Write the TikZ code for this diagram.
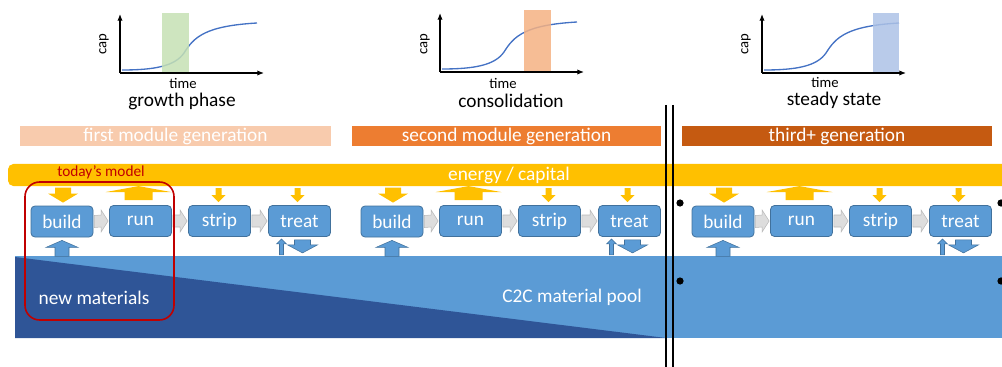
\documentclass[tikz,border=0pt]{standalone}
\usepackage{fontspec}
\setmainfont{Carlito}
\usetikzlibrary{calc,arrows.meta}

\definecolor{peach}{HTML}{F8CBAD}
\definecolor{midorange}{HTML}{ED7D31}
\definecolor{rust}{HTML}{C55A11}
\definecolor{gold}{HTML}{FFC000}
\definecolor{boxblue}{HTML}{5B9BD5}
\definecolor{boxedge}{HTML}{41719C}
\definecolor{deepblue}{HTML}{2F5597}
\definecolor{modelred}{HTML}{C00000}
\definecolor{chevgray}{HTML}{DDDDDD}
\definecolor{chevedge}{HTML}{B8B8B8}
\definecolor{curveblue}{HTML}{4472C4}
\definecolor{phasegreen}{HTML}{C5E0B4}
\definecolor{phasesalmon}{HTML}{F4B183}
\definecolor{phaseblue}{HTML}{ADC2E6}

% block arrow: tip, direction (1 = pointing up, -1 = pointing down),
% head half width, head length, shaft half width, total length, style
\newcommand\blockarrow[7]{%
  \fill[#7] #1 -- ++(-#3,{(#2)*(#4)}) -- ++({#3-#5},0)
    -- ++(0,{(#2)*(#6-#4)}) -- ++({2*#5},0)
    -- ++(0,{(#2)*(#4-#6)}) -- ++({#3-#5},0) -- cycle;}

% grey flow arrow from one step box to the next
\newcommand\stepflow[2]{%
  \filldraw[fill=chevgray, draw=chevedge, line width=0.4pt]
    ($(#1.east)+(1,-6)$) -- ($(#2.west)+(-8,-6)$) -- ($(#2.west)+(-8,-11)$)
    -- ($(#2.west)+(-1,0)$) -- ($(#2.west)+(-8,11)$) -- ($(#2.west)+(-8,6)$)
    -- ($(#1.east)+(1,6)$) -- cycle;}

% small S-curve chart: origin, phase band left, right, top, band colour
\newcommand\phasechart[5]{%
  \begin{scope}[shift={#1}]
    \draw[curveblue, line width=1pt]
      (2,-3) .. controls (35,-3) and (55,-7) .. (64,-20)
             .. controls (74,-36) and (85,-47) .. (137,-50);
    \fill[#5, opacity=0.85] (#2,0) rectangle (#3,#4);
    \draw[line width=0.9pt, -{Latex[length=5pt,width=4pt]}] (0,0) -- (0,-59);
    \draw[line width=0.9pt, -{Latex[length=5pt,width=4pt]}] (0,0) -- (144,0);
  \end{scope}}

\tikzset{
  stepbox/.style={draw=boxedge, fill=boxblue, rounded corners=3pt,
    line width=0.6pt, minimum width=46.5pt, minimum height=23.25pt,
    inner sep=0pt, text=white, font=\fontsize{14.5}{16}\selectfont},
  headbar/.style={minimum height=15pt, inner sep=0pt, text=white,
    font=\fontsize{14.5}{16}\selectfont},
  chartlabel/.style={font=\fontsize{11}{12}\selectfont, inner sep=0pt},
  charttitle/.style={font=\fontsize{14.5}{16}\selectfont, inner sep=0pt},
  poollabel/.style={text=white, font=\fontsize{14.5}{16}\selectfont, inner sep=0pt},
  gofill/.style={fill=gold},
  backfill/.style={fill=boxblue, draw=boxedge, line width=0.4pt},
  dot/.style={fill=black},
}

\begin{document}
\begin{tikzpicture}[x=0.75pt, y=-0.75pt]
\useasboundingbox (0,0) rectangle (1002,367);

% ---- phase charts ----
\phasechart{(120,73)}{42}{69}{-60}{phasegreen}
\node[chartlabel, rotate=90] (cap1) at (104,44) {cap};
\node[chartlabel] (time1) at (183,83) {time};
\node[charttitle] (title1) at (182,101) {growth phase};

\phasechart{(440,72)}{84}{111}{-62}{phasesalmon}
\node[chartlabel, rotate=90] (cap2) at (425,44) {cap};
\node[chartlabel] (time2) at (503,83) {time};
\node[charttitle] (title2) at (511,101) {consolidation};

\phasechart{(762,73)}{111}{137}{-60}{phaseblue}
\node[chartlabel, rotate=90] (cap3) at (746,44) {cap};
\node[chartlabel] (time3) at (825,82) {time};
\node[charttitle] (title3) at (834,100) {steady state};

% ---- generation headers ----
\node[headbar, fill=peach, minimum width=233.25pt] (gen1) at (175.5,136) {first module generation};
\node[headbar, fill=midorange, minimum width=231.75pt] (gen2) at (506.5,136) {second module generation};
\node[headbar, fill=rust, minimum width=232.5pt] (gen3) at (837,136) {third+ generation};

\begin{scope}
\clip (0,0) rectangle (1002,367);
% energy / capital band
\fill[gold, rounded corners=4pt] (8,164) rectangle (1015,186);
\node[text=white, font=\fontsize{14.5}{16}\selectfont, inner sep=0pt] (energy) at (509,175) {energy / capital};

% material pool
\fill[boxblue] (15,256) rectangle (1010,338);
\fill[deepblue] (15,257) -- (666,338) -- (15,338) -- cycle;
\node[poollabel] (newmat) at (94,298) {new materials};
\node[poollabel] (c2c) at (572,297) {C2C material pool};

% ---- process chains ----
\foreach \g/\dx in {1/0, 2/330, 3/661} {
  \node[stepbox] (b\g) at (62+\dx,221.5) {build};
  \node[stepbox] (r\g) at (140.5+\dx,221) {run};
  \node[stepbox] (s\g) at (219.5+\dx,221) {strip};
  \node[stepbox] (t\g) at (299.5+\dx,221) {treat};
  \stepflow{b\g}{r\g}
  \stepflow{r\g}{s\g}
  \stepflow{s\g}{t\g}
  % energy in / out
  \blockarrow{($(b\g.north)+(1,-3)$)}{-1}{15}{9}{8}{15}{gofill}
  \blockarrow{($(r\g.north)+(-2,-19)$)}{1}{33}{6}{14}{14}{gofill}
  \blockarrow{($(s\g.north)+(-1,-3)$)}{-1}{7}{7}{3}{14}{gofill}
  \blockarrow{($(t\g.north)+(-2,-3)$)}{-1}{7}{7}{3}{14}{gofill}
  % material in / out
  \blockarrow{($(b\g.south)+(0,3)$)}{1}{16}{7}{7}{16}{backfill}
  \blockarrow{($(t\g.south)+(-18,2)$)}{1}{5}{5}{2}{16}{backfill}
  \blockarrow{($(t\g.south)+(3,16)$)}{-1}{15}{8}{8}{13}{backfill}
}

% continuation dots
\fill[dot] (680,203) circle[radius=2.7pt];
\fill[dot] (680,281) circle[radius=2.7pt];
\fill[dot] (1001,203) circle[radius=2.7pt];
\fill[dot] (1001,281) circle[radius=2.7pt];
\end{scope}

% today's model frame
\draw[modelred, line width=1.2pt, rounded corners=11pt] (25,182) rectangle (174,320);
\node[text=modelred, font=\fontsize{11.5}{13}\selectfont, inner sep=0pt] (today) at (101,172) {today’s model};

% steady-state divider
\coordinate (divtopA) at (666,105);
\coordinate (divbotA) at (666,367);
\coordinate (divtopB) at (673,105);
\coordinate (divbotB) at (673,367);
\draw[line width=1.1pt] (divtopA) -- (divbotA);
\draw[line width=1.1pt] (divtopB) -- (divbotB);
\end{tikzpicture}
\end{document}
